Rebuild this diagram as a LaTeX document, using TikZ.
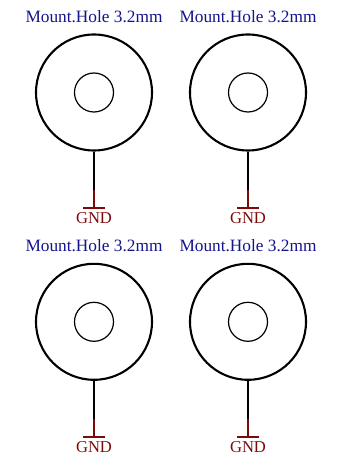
\documentclass[tikz,border=0pt]{standalone}
\usepackage{fontspec}
\setmainfont{Liberation Serif}
\definecolor{titleblue}{RGB}{20,20,140}
\definecolor{gndred}{RGB}{125,10,10}
\tikzset{
  outerring/.style={circle,draw=black,line width=2.1pt,minimum size=116pt,inner sep=0pt},
  innerring/.style={circle,draw=black,line width=1.2pt,minimum size=39pt,inner sep=0pt},
  titletext/.style={text=titleblue,font=\fontsize{17.3}{18}\selectfont,inner sep=0pt,anchor=center},
  gndtext/.style={text=gndred,font=\fontsize{16.6}{18}\selectfont,inner sep=0pt,anchor=center},
  wire/.style={draw=black,line width=2pt},
  stub/.style={draw=gndred,line width=1.8pt},
  bar/.style={draw=gndred,line width=1.7pt}
}
\begin{document}
\begin{tikzpicture}[x=1pt,y=-1pt]
\useasboundingbox (0,0) rectangle (338,454);
\foreach \n/\cx/\cy/\ty/\gy in {a/94/92.5/17/218,b/248/92.5/17/218,c/94/321.8/246/447,d/248/321.8/246/447}{
  \node[titletext] (t\n) at (\cx,\ty) {Mount.Hole 3.2mm};
  \node[outerring] (o\n) at (\cx,\cy) {};
  \node[innerring] (i\n) at (\cx,\cy) {};
  \node[gndtext] (g\n) at (\cx,\gy) {GND};
  \coordinate (j\n) at (\cx,\cy+97.5);
  \coordinate (k\n) at (\cx,\cy+115.5);
  \coordinate (l\n) at (\cx-11,\cy+115.5);
  \coordinate (r\n) at (\cx+11,\cy+115.5);
  \draw[wire] (o\n.south) -- (j\n);
  \draw[stub] (j\n) -- (k\n);
  \draw[bar] (l\n) -- (r\n);
}
\end{tikzpicture}
\end{document}
